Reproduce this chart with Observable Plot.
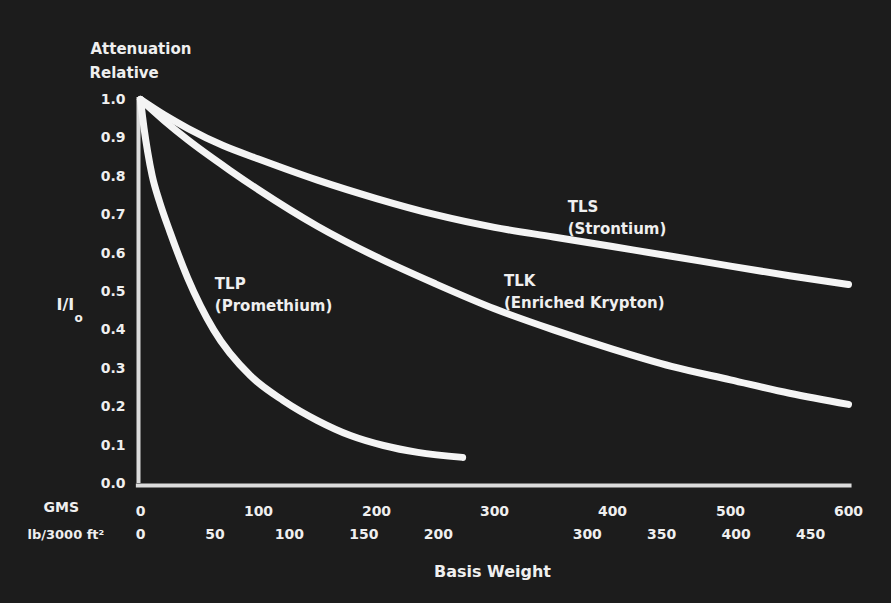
<!DOCTYPE html>
<html><head><meta charset="utf-8">
<script src="https://cdn.jsdelivr.net/npm/d3@7"></script>
<script src="https://cdn.jsdelivr.net/npm/@observablehq/plot@0.6"></script>
<style>html,body{margin:0;padding:0;background:#1c1c1c;overflow:hidden}</style>
</head><body><div id="chart"></div><script>
// Series (x = basis weight in GMS, y = I/Io)
const tlsGms = [0, 20, 40, 70, 100, 150, 200, 250, 300, 350, 400, 450, 500, 550, 600];
const tlsVal = [1.0, 0.96, 0.925, 0.88, 0.845, 0.79, 0.742, 0.70, 0.667, 0.642, 0.617, 0.592, 0.566, 0.541, 0.518];
const tlkGms = [0, 20, 40, 76, 100, 150, 200, 250, 300, 350, 400, 450, 500, 550, 600];
const tlkVal = [1.0, 0.945, 0.895, 0.815, 0.765, 0.67, 0.59, 0.52, 0.455, 0.40, 0.35, 0.305, 0.27, 0.235, 0.206];
const tlpGms = [0, 3, 6, 10, 16, 25, 40, 62, 93, 121, 150, 178, 206, 235, 273];
const tlpVal = [1.0, 0.925, 0.865, 0.80, 0.735, 0.655, 0.535, 0.40, 0.281, 0.216, 0.164, 0.125, 0.099, 0.081, 0.068];

// Curve labels (anchored in data units)
const labelText = ["TLS\n(Strontium)", "TLK\n(Enriched Krypton)", "TLP\n(Promethium)"];
const labelGms = [362, 308, 63];
const labelVal = [0.697, 0.505, 0.496];

// Ticks
const yTicks = [0, 0.1, 0.2, 0.3, 0.4, 0.5, 0.6, 0.7, 0.8, 0.9, 1.0];
const gmsTicks = [0, 100, 200, 300, 400, 500, 600];
const lbTicks = [0, 50, 100, 150, 200, 300, 350, 400, 450];
const lbToGms = 1.262; // as drawn on the chart's secondary scale

const series = [
  {name: "TLS", xs: tlsGms, ys: tlsVal},
  {name: "TLK", xs: tlkGms, ys: tlkVal},
  {name: "TLP", xs: tlpGms, ys: tlpVal}
];
const rows = series.flatMap(s => s.xs.map((x, i) => ({series: s.name, gms: x, v: s.ys[i]})));
const labels = labelText.map((t, i) => ({text: t, gms: labelGms[i], v: labelVal[i]}));

const FG = "#efefef";
const chart = Plot.plot({
  width: 891,
  height: 603,
  marginLeft: 140,
  marginRight: 43,
  marginTop: 99,
  marginBottom: 120,
  x: {domain: [0, 600], axis: null},
  y: {domain: [0, 1], axis: null},
  style: {background: "#1c1c1c", color: FG, fontFamily: "DejaVu Sans", fontWeight: "bold"},
  marks: [
    Plot.ruleX([0], {y1: 0, y2: 1.005, stroke: "#dcdcdc", strokeWidth: 4, dx: -2}),
    Plot.ruleY([0], {x1: -3.5, x2: 603, stroke: "#dcdcdc", strokeWidth: 4, dy: 2}),
    Plot.axisY(yTicks, {tickSize: 0, tickPadding: 15, tickFormat: d3.format(".1f"), fontSize: 14, fontWeight: "bold", label: null, fill: FG}),
    Plot.axisX(gmsTicks, {tickSize: 0, tickPadding: 23, fontSize: 14, fontWeight: "bold", label: null, fill: FG}),
    Plot.text(lbTicks, {x: d => d * lbToGms, text: d => String(d), frameAnchor: "bottom", dy: 55, fontSize: 14, fontWeight: "bold", fill: FG}),
    Plot.line(rows, {x: "gms", y: "v", z: "series", curve: "monotone-x", stroke: "#f4f4f4", strokeWidth: 7, strokeLinecap: "round", strokeLinejoin: "round"}),
    Plot.text(labels, {x: "gms", y: "v", text: "text", textAnchor: "start", lineHeight: 1.47, fontSize: 15, fontWeight: "bold", fill: FG}),
    // axis titles
    Plot.text(["Attenuation"], {frameAnchor: "top-left", dx: -50, dy: -56, fontSize: 15, fontWeight: "bold", fill: FG}),
    Plot.text(["Relative"], {frameAnchor: "top-left", dx: -51, dy: -32, fontSize: 15, fontWeight: "bold", fill: FG}),
    Plot.text(["I/I"], {frameAnchor: "left", dx: -84, dy: 13, fontSize: 16, fontWeight: "bold", fill: FG}),
    Plot.text(["o"], {frameAnchor: "left", dx: -66, dy: 27, fontSize: 12, fontWeight: "bold", fill: FG}),
    Plot.text(["GMS"], {frameAnchor: "bottom-left", dx: -97, dy: 28, fontSize: 14, fontWeight: "bold", fill: FG}),
    Plot.text(["lb/3000 ft²"], {frameAnchor: "bottom-left", dx: -113, dy: 55, textAnchor: "start", fontSize: 13, fontWeight: "bold", fill: FG}),
    Plot.text(["Basis Weight"], {frameAnchor: "bottom", dx: -2, dy: 93, fontSize: 16, fontWeight: "bold", fill: FG})
  ]
});
document.getElementById("chart").appendChild(chart);
</script></body></html>
